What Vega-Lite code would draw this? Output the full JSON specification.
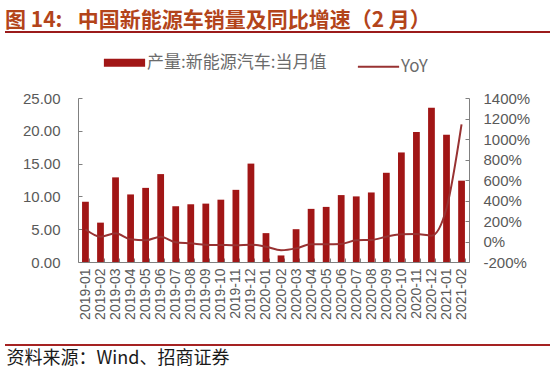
{
  "$schema": "https://vega.github.io/schema/vega-lite/v6.json",
  "width": 391,
  "height": 164,
  "autosize": "none",
  "padding": {"left": 78, "top": 98, "right": 81, "bottom": 111},
  "background": "white",
  "config": {
    "view": {"stroke": null},
    "axis": {"labelFont": "Liberation Sans", "labelColor": "#595959", "domainColor": "#808080", "tickColor": "#808080", "grid": false}
  },
  "title": {
    "text": "图 14: \u2002中国新能源车销量及同比增速（2 月）",
    "anchor": "start",
    "frame": "group",
    "dx": -73,
    "offset": 0,
    "font": "Noto Sans CJK SC",
    "fontSize": 21,
    "fontWeight": "bold",
    "color": "#B3441A"
  },
  "data": {
    "values": [
      {"month": "2019-01", "sales": 9.2, "yoy": 120},
      {"month": "2019-02", "sales": 6.0, "yoy": 47},
      {"month": "2019-03", "sales": 12.9, "yoy": 80},
      {"month": "2019-04", "sales": 10.3, "yoy": 21},
      {"month": "2019-05", "sales": 11.3, "yoy": 12},
      {"month": "2019-06", "sales": 13.4, "yoy": 47},
      {"month": "2019-07", "sales": 8.5, "yoy": -8},
      {"month": "2019-08", "sales": 8.8, "yoy": -18},
      {"month": "2019-09", "sales": 8.9, "yoy": -31},
      {"month": "2019-10", "sales": 9.5, "yoy": -34},
      {"month": "2019-11", "sales": 11.0, "yoy": -37},
      {"month": "2019-12", "sales": 15.0, "yoy": -31},
      {"month": "2020-01", "sales": 4.4, "yoy": -51},
      {"month": "2020-02", "sales": 1.0, "yoy": -85},
      {"month": "2020-03", "sales": 5.0, "yoy": -67},
      {"month": "2020-04", "sales": 8.1, "yoy": -27},
      {"month": "2020-05", "sales": 8.4, "yoy": -27},
      {"month": "2020-06", "sales": 10.2, "yoy": -24},
      {"month": "2020-07", "sales": 10.0, "yoy": 12},
      {"month": "2020-08", "sales": 10.6, "yoy": 15},
      {"month": "2020-09", "sales": 13.6, "yoy": 47},
      {"month": "2020-10", "sales": 16.7, "yoy": 70},
      {"month": "2020-11", "sales": 19.8, "yoy": 73},
      {"month": "2020-12", "sales": 23.5, "yoy": 57},
      {"month": "2021-01", "sales": 19.4, "yoy": 324},
      {"month": "2021-02", "sales": 12.4, "yoy": 1143}
    ]
  },
  "encoding": {
    "x": {
      "field": "month",
      "type": "nominal",
      "sort": null,
      "scale": {"paddingInner": 0.55, "paddingOuter": 0.27},
      "axis": {
        "labelAngle": 270,
        "labelFontSize": 14,
        "labelPadding": 10,
        "tickBand": "extent",
        "tickSize": -4,
        "title": "资料来源：Wind、招商证券",
        "titleX": -72,
        "titleY": 96,
        "titleAlign": "left",
        "titleBaseline": "middle",
        "titleFont": "Noto Sans CJK SC",
        "titleFontSize": 18,
        "titleFontWeight": "normal",
        "titleColor": "#1a1a1a"
      }
    }
  },
  "layer": [
    {
      "mark": {"type": "bar", "color": "#A11616"},
      "encoding": {
        "y": {
          "field": "sales",
          "type": "quantitative",
          "scale": {"domain": [0, 25]},
          "axis": {"orient": "left", "values": [0, 5, 10, 15, 20, 25], "format": ".2f", "labelFontSize": 15, "tickSize": -4, "labelPadding": 22, "title": null}
        },
        "color": {
          "datum": "产量:新能源汽车:当月值",
          "type": "nominal",
          "scale": {"domain": ["产量:新能源汽车:当月值", "YoY"], "range": ["#A11616", "#983232"]},
          "legend": {
            "orient": "none",
            "direction": "horizontal",
            "legendX": 38,
            "legendY": -44,
            "title": null,
            "symbolType": "stroke",
            "symbolSize": 1700,
            "labelFont": "Noto Sans CJK SC",
            "labelFontSize": 17,
            "labelLimit": 400,
            "labelColor": "#6b6b6b",
            "labelOffset": 14,
            "columnPadding": 26,
            "encode": {
              "symbols": {
                "update": {
                  "strokeWidth": {"signal": "datum.value === 'YoY' ? 2 : 8"},
                  "stroke": {"signal": "datum.value === 'YoY' ? '#983232' : '#A11616'"},
                  "strokeCap": {"value": "butt"},
                  "opacity": {"value": 1}
                }
              }
            }
          }
        }
      }
    },
    {
      "mark": {"type": "line", "interpolate": "monotone", "strokeWidth": 2},
      "encoding": {
        "y": {
          "field": "yoy",
          "type": "quantitative",
          "scale": {"domain": [-200, 1400]},
          "axis": {"orient": "right", "values": [-200, 0, 200, 400, 600, 800, 1000, 1200, 1400], "labelExpr": "datum.value + '%'", "labelFontSize": 15, "tickSize": -4, "labelPadding": 18, "title": null}
        },
        "color": {"datum": "YoY", "type": "nominal"}
      }
    },
    {
      "data": {"values": [{}]},
      "mark": {"type": "rule", "color": "#9B1B1B", "strokeWidth": 2},
      "encoding": {"x": {"value": -73}, "x2": {"value": 472}, "y": {"value": -66}}
    },
    {
      "data": {"values": [{}]},
      "mark": {"type": "rule", "color": "#A52222", "strokeWidth": 2},
      "encoding": {"x": {"value": -73}, "x2": {"value": 472}, "y": {"value": 247}}
    }
  ],
  "resolve": {"scale": {"y": "independent"}}
}
